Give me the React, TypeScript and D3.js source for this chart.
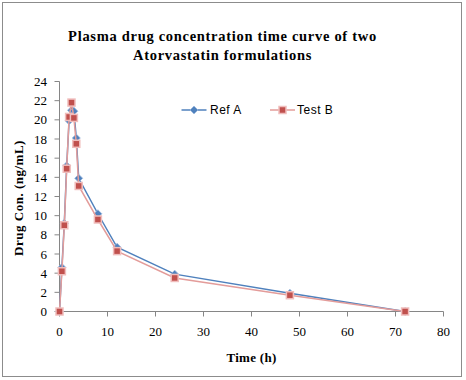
import React from "react";
import * as d3 from "d3";

const timeH = [0, 0.5, 1, 1.5, 2, 2.5, 3, 3.5, 4, 8, 12, 24, 48, 72];
const refA = [0, 4.6, 9.2, 15.2, 19.9, 21.0, 20.9, 18.1, 13.9, 10.2, 6.7, 3.9, 1.9, 0];
const testB = [0, 4.2, 9.0, 14.9, 20.3, 21.8, 20.2, 17.5, 13.1, 9.6, 6.3, 3.5, 1.7, 0];
const xTicks = [0, 10, 20, 30, 40, 50, 60, 70, 80];
const yTicks = [0, 2, 4, 6, 8, 10, 12, 14, 16, 18, 20, 22, 24];
const titleLines = ["Plasma drug concentration time curve of two", "Atorvastatin formulations"];
const seriesNames = ["Ref A", "Test B"];

const W = 466;
const H = 380;

export default function App() {
  const x = d3.scaleLinear().domain([0, 80]).range([59.5, 443.5]);
  const y = d3.scaleLinear().domain([0, 24]).range([311.5, 81.5]);
  const line = d3
    .line<number>()
    .x((_, i) => x(timeH[i]))
    .y((d) => y(d));

  const serif = "'Liberation Serif', 'Times New Roman', serif";
  const sans = "'Liberation Sans', Arial, sans-serif";
  const axisColor = "#868686";

  const diamond = (cx: number, cy: number, r: number) =>
    `M${cx},${cy - r}L${cx + r},${cy}L${cx},${cy + r}L${cx - r},${cy}Z`;

  return (
    <svg width={W} height={H} style={{ position: "absolute", left: 0, top: 0 }}>
      <rect x={0} y={0} width={W} height={H} fill="#fff" />
      <rect x={2.5} y={2.5} width={459} height={374} fill="none" stroke="#8c8c8c" strokeWidth={1} />

      {titleLines.map((t, i) => (
        <text key={t} x={222.5} y={41 + i * 19} textAnchor="middle" fontFamily={serif} fontWeight="bold" fontSize={14.5} letterSpacing={0.7} fill="#000">
          {t}
        </text>
      ))}

      {/* axes */}
      <line x1={x(0)} x2={x(0)} y1={y(24)} y2={y(0)} stroke={axisColor} />
      <line x1={x(0)} x2={x(80)} y1={y(0)} y2={y(0)} stroke={axisColor} />
      {yTicks.map((t) => (
        <g key={"y" + t}>
          <line x1={x(0) - 5} x2={x(0)} y1={y(t)} y2={y(t)} stroke={axisColor} />
          <text x={47} y={y(t) + 4.5} textAnchor="end" fontFamily={serif} fontSize={13} fill="#000">
            {t}
          </text>
        </g>
      ))}
      {xTicks.map((t) => (
        <g key={"x" + t}>
          <line x1={x(t)} x2={x(t)} y1={y(0)} y2={y(0) + 5} stroke={axisColor} />
          <text x={x(t)} y={336} textAnchor="middle" fontFamily={serif} fontSize={13} fill="#000">
            {t}
          </text>
        </g>
      ))}

      <text x={251.5} y={362} textAnchor="middle" fontFamily={serif} fontWeight="bold" fontSize={13} letterSpacing={0.3} fill="#000">
        Time (h)
      </text>
      <text
        transform={`translate(23,198) rotate(-90)`}
        textAnchor="middle"
        fontFamily={serif}
        fontWeight="bold"
        fontSize={13}
        letterSpacing={0.5}
        fill="#000"
      >
        Drug Con. (ng/mL)
      </text>

      {/* Ref A */}
      <path d={line(refA) || ""} fill="none" stroke="#4F81BD" strokeWidth={1.5} />
      {refA.map((v, i) => (
        <path key={"a" + i} d={diamond(x(timeH[i]), y(v), 4)} fill="#4F81BD" stroke="#9DB9DD" strokeWidth={0.8} />
      ))}

      {/* Test B */}
      <path d={line(testB) || ""} fill="none" stroke="#E39C9A" strokeWidth={1.5} />
      {testB.map((v, i) => (
        <rect key={"b" + i} x={x(timeH[i]) - 3.5} y={y(v) - 3.5} width={7} height={7} fill="#C0504D" stroke="#F0BDBC" strokeWidth={1.5} />
      ))}

      {/* legend */}
      <g>
        <line x1={181.5} x2={206.5} y1={110} y2={110} stroke="#4F81BD" strokeWidth={1.5} />
        <path d={diamond(194, 110, 4)} fill="#4F81BD" stroke="#9DB9DD" strokeWidth={0.8} />
        <text x={210} y={114} fontFamily={sans} fontSize={12} letterSpacing={0.5} fill="#000">
          {seriesNames[0]}
        </text>
        <line x1={270} x2={295} y1={110} y2={110} stroke="#E39C9A" strokeWidth={1.5} />
        <rect x={282.5 - 3.5} y={110 - 3.5} width={7} height={7} fill="#C0504D" stroke="#F0BDBC" strokeWidth={1.5} />
        <text x={297} y={114} fontFamily={sans} fontSize={12} letterSpacing={0.5} fill="#000">
          {seriesNames[1]}
        </text>
      </g>
    </svg>
  );
}
